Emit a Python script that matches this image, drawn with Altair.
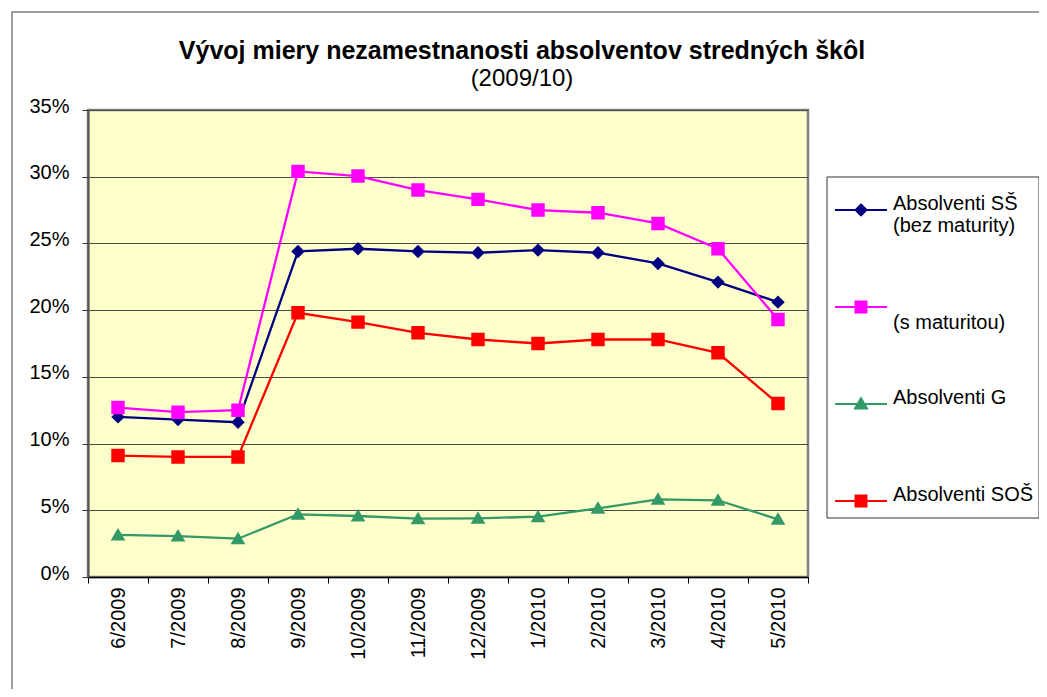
import json
import altair as alt
import pandas as pd

# ---------------- data ----------------
MONTHS = ["6/2009", "7/2009", "8/2009", "9/2009", "10/2009", "11/2009",
          "12/2009", "1/2010", "2/2010", "3/2010", "4/2010", "5/2010"]
SERIES = ["Absolventi SŠ (bez maturity)", "Absolventi SŠ (s maturitou)",
          "Absolventi G", "Absolventi SOŠ"]
BEZ_MATURITY = [12.0, 11.8, 11.6, 24.4, 24.6, 24.4, 24.3, 24.5, 24.3, 23.5, 22.1, 20.6]
S_MATURITOU = [12.7, 12.35, 12.5, 30.4, 30.05, 29.0, 28.3, 27.5, 27.3, 26.5, 24.6, 19.3]
GYMNAZIA = [3.15, 3.07, 2.87, 4.7, 4.57, 4.37, 4.4, 4.52, 5.15, 5.82, 5.75, 4.32]
SOS = [9.1, 9.0, 9.0, 19.8, 19.1, 18.3, 17.8, 17.5, 17.8, 17.8, 16.8, 13.0]
LEGEND_LINES = [["Absolventi SŠ", "(bez maturity)"], ["", "(s maturitou)"],
                ["Absolventi G", ""], ["Absolventi SOŠ", ""]]
Y_TICKS = [0, 5, 10, 15, 20, 25, 30, 35]
TITLE = "Vývoj miery nezamestnanosti absolventov stredných škôl"
SUBTITLE = "(2009/10)"

# ---------------- styles ----------------
COLORS = ["#000080", "#FF00FF", "#339966", "#FF0000"]
SHAPES = [
    "M-1,0H1M0,-0.21L0.21,0L0,0.21L-0.21,0Z",
    "M-1,0H1M-0.21,-0.21H0.21V0.21H-0.21Z",
    "M-1,0H1M0,-0.22L0.23,0.17L-0.23,0.17Z",
    "M-1,0H1M-0.21,-0.21H0.21V0.21H-0.21Z",
]
FONT = "Liberation Sans"

rows = []
for name, vals in zip(SERIES, [BEZ_MATURITY, S_MATURITOU, GYMNAZIA, SOS]):
    for i, (m, v) in enumerate(zip(MONTHS, vals)):
        rows.append({"mesiac": m, "poradie": i, "seria": name, "hodnota": v})
df = pd.DataFrame(rows)

label_expr = " : ".join(
    f"datum.label == {json.dumps(n, ensure_ascii=False)} ? {json.dumps(l, ensure_ascii=False)}"
    for n, l in zip(SERIES, LEGEND_LINES)
) + " : datum.label"

legend = alt.Legend(
    title=None, orient="none", legendX=746, legendY=73, padding=0,
    labelExpr=label_expr, labelFont=FONT, labelFontSize=20, labelColor="black",
    labelBaseline="alphabetic", labelOffset=5, labelLimit=400,
    symbolSize=2704, symbolStrokeWidth=2, rowPadding=44, symbolOpacity=1,
)

x_enc = alt.X(
    "mesiac:N", title=None,
    scale=alt.Scale(type="band", domain=MONTHS, paddingInner=0, paddingOuter=0),
    axis=alt.Axis(labelAngle=270, labelFont=FONT, labelFontSize=20, labelColor="black",
                  tickBand="extent", tickSize=6, tickColor="black", labelPadding=4,
                  domainColor="black", domainWidth=1.5, grid=False),
)
y_enc = alt.Y(
    "hodnota:Q", title=None,
    scale=alt.Scale(domain=[0, 35], nice=False, zero=True),
    axis=alt.Axis(values=Y_TICKS, labelExpr="datum.value + '%'", labelFont=FONT,
                  labelFontSize=20, labelColor="black", labelBaseline="alphabetic",
                  labelOffset=2, labelPadding=13, tickSize=6, tickColor="#333333",
                  domainColor="#555555", domainWidth=2, gridColor="#4a4a4a", gridWidth=1.2),
)

one = pd.DataFrame({"k": [0]})
frame = alt.Chart(one).mark_rect(filled=False, stroke="#808080", strokeWidth=1.5).encode(
    x=alt.value(-76), x2=alt.value(962), y=alt.value(-98), y2=alt.value(600))
legend_box = alt.Chart(one).mark_rect(filled=False, stroke="#333333", strokeWidth=1).encode(
    x=alt.value(739), x2=alt.value(951), y=alt.value(67), y2=alt.value(408))

lines = alt.Chart(df).mark_line(strokeWidth=2.3).encode(
    x=x_enc, y=y_enc, order=alt.Order("poradie:Q"),
    stroke=alt.Stroke("seria:N", scale=alt.Scale(domain=SERIES, range=COLORS), legend=legend),
)
points = alt.Chart(df).mark_point(filled=True, opacity=1, size=4096).encode(
    x=x_enc, y=y_enc,
    fill=alt.Fill("seria:N", scale=alt.Scale(domain=SERIES, range=COLORS), legend=legend),
    shape=alt.Shape("seria:N", scale=alt.Scale(domain=SERIES, range=SHAPES), legend=legend),
)

chart = alt.layer(frame, legend_box, lines, points).properties(
    width=720, height=467,
    padding={"left": 80, "top": 102, "right": 231, "bottom": 112},
    autosize="none",
    title=alt.TitleParams(
        text=TITLE, subtitle=SUBTITLE, font=FONT, fontSize=25, fontWeight="bold",
        color="black", subtitleFont=FONT, subtitleFontSize=24, subtitleColor="black",
        subtitleFontWeight="normal", anchor="middle", frame="group", dx=74,
        offset=-80, subtitlePadding=3,
    ),
).configure(font=FONT).configure_view(fill="#FFFFCC", stroke="#808080", strokeWidth=2.5)

chart.save("out.html", embed_options={"renderer": "svg", "actions": False})
